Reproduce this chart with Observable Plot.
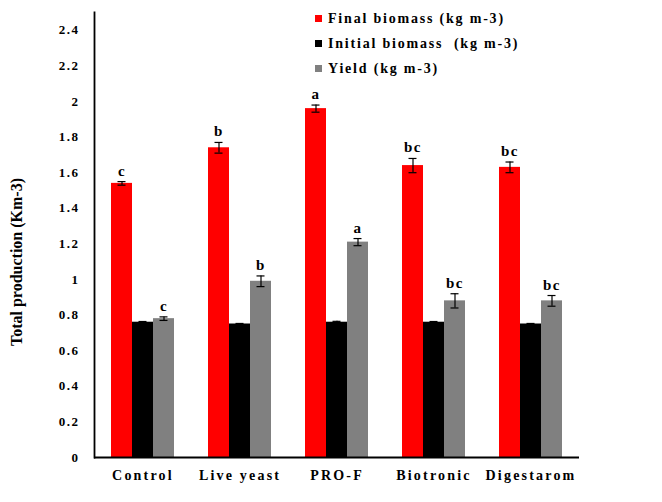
<!DOCTYPE html>
<html><head><meta charset="utf-8">
<script src="https://cdn.jsdelivr.net/npm/d3@7"></script>
<script src="https://cdn.jsdelivr.net/npm/@observablehq/plot@0.6"></script>
<style>
body{margin:0;background:#fff;}
#wrap{position:relative;width:662px;height:502px;font-family:"Liberation Serif","Times New Roman",serif;font-weight:bold;color:#000;}
#wrap svg{position:absolute;left:0;top:0;}
#wrap svg text{font-family:"Liberation Serif","Times New Roman",serif !important;font-weight:bold;}
[aria-label="y-axis tick label"] text{letter-spacing:1.5px;}
[aria-label="fx-axis tick label"] text{letter-spacing:2.2px;}
.letters text{letter-spacing:1.5px;}
.legend{position:absolute;left:315px;top:6px;font-size:14px;letter-spacing:1.8px;line-height:25px;}
.legend .sw{display:inline-block;width:7px;height:7px;margin-right:6px;vertical-align:1px;}
.ylab{position:absolute;left:17px;top:262px;transform:translate(-50%,-50%) rotate(-90deg);white-space:nowrap;font-size:16px;}
</style></head>
<body><div id="wrap"></div>
<script>
const categories = ["Control", "Live yeast", "PRO-F", "Biotronic", "Digestarom"];
const series = ["Final biomass (kg m-3)", "Initial biomass  (kg m-3)", "Yield (kg m-3)"];
const colors = ["#ff0000", "#000000", "#808080"];
const finalBiomass = [1.54, 1.74, 1.96, 1.64, 1.63];
const finalErr = [0.01, 0.03, 0.02, 0.04, 0.03];
const initialBiomass = [0.76, 0.75, 0.76, 0.76, 0.75];
const initialErr = [0.004, 0.003, 0.005, 0.004, 0.003];
const yieldValues = [0.78, 0.99, 1.21, 0.88, 0.88];
const yieldErr = [0.01, 0.03, 0.02, 0.04, 0.03];
const finalLetters = ["c", "b", "a", "bc", "bc"];
const yieldLetters = ["c", "b", "a", "bc", "bc"];
const yTicks = [0, 0.2, 0.4, 0.6, 0.8, 1, 1.2, 1.4, 1.6, 1.8, 2, 2.2, 2.4];

const rows = [];
categories.forEach((c, i) => {
  rows.push({cat: c, series: series[0], value: finalBiomass[i], err: finalErr[i], letter: finalLetters[i]});
  rows.push({cat: c, series: series[1], value: initialBiomass[i], err: initialErr[i], letter: ""});
  rows.push({cat: c, series: series[2], value: yieldValues[i], err: yieldErr[i], letter: yieldLetters[i]});
});

const serif = '"Liberation Serif","Times New Roman",serif';
const chart = Plot.plot({
  width: 662,
  height: 502,
  marginTop: 12,
  marginBottom: 45,
  marginLeft: 93,
  marginRight: 83,
  style: {fontFamily: serif, fontWeight: "bold", fontSize: "13px", color: "#000", background: "transparent"},
  fx: {domain: categories, padding: 0, label: null},
  x: {domain: series, axis: null, paddingInner: 0, paddingOuter: 0.78},
  y: {domain: [0, 2.5]},
  color: {domain: series, range: colors},
  marks: [
    Plot.axisY({ticks: yTicks, tickSize: 0, tickPadding: 15, label: null, tickFormat: d => String(d), fontSize: 13, fontFamily: serif}),
    Plot.axisFx({anchor: "bottom", tickSize: 0, tickPadding: 13, label: null, fontSize: 14, fontFamily: serif}),
    Plot.barY(rows, {fx: "cat", x: "series", y: "value", fill: "series"}),
    Plot.ruleX(rows, {fx: "cat", x: "series", y1: d => d.value - d.err, y2: d => d.value + d.err, stroke: "#000", strokeWidth: 1.2}),
    Plot.tickY(rows, {fx: "cat", x: "series", y: d => d.value + d.err, stroke: "#000", strokeWidth: 1.2, insetLeft: 6.5, insetRight: 6.5}),
    Plot.tickY(rows, {fx: "cat", x: "series", y: d => d.value - d.err, stroke: "#000", strokeWidth: 1.2, insetLeft: 6.5, insetRight: 6.5}),
    Plot.text(rows.filter(d => d.letter), {fx: "cat", x: "series", y: d => d.value + d.err, text: "letter", dy: -6, lineAnchor: "bottom", fontSize: 15, fontFamily: serif, fill: "#000", className: "letters"}),
    Plot.frame({anchor: "left", facetAnchor: "left", stroke: "#000", strokeWidth: 1.8}),
    Plot.ruleY([0], {stroke: "#000", strokeWidth: 1.8})
  ]
});

const wrap = document.getElementById("wrap");
wrap.appendChild(chart);

const legend = document.createElement("div");
legend.className = "legend";
series.forEach((s, i) => {
  const row = document.createElement("div");
  const sw = document.createElement("span");
  sw.className = "sw";
  sw.style.background = colors[i];
  row.appendChild(sw);
  row.appendChild(document.createTextNode(s));
  row.style.whiteSpace = "pre";
  legend.appendChild(row);
});
wrap.appendChild(legend);

const ylab = document.createElement("div");
ylab.className = "ylab";
ylab.textContent = "Total production (Km-3)";
wrap.appendChild(ylab);
</script>
</body></html>
